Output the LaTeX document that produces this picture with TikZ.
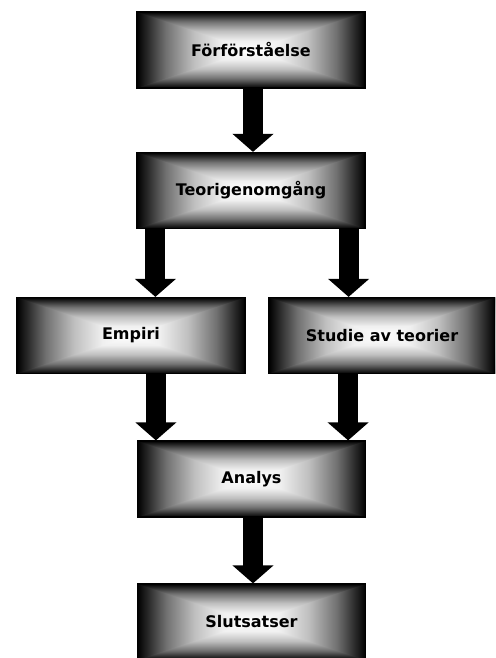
\documentclass[tikz,border=0pt]{standalone}
\usepackage{fontspec}
\setmainfont{DejaVu Sans}
\usetikzlibrary{calc,arrows.meta}
\pgfdeclarehorizontalshading{gshL}{100bp}{color(0bp)=(black); color(25bp)=(black); color(37.5bp)=(black!56); color(50bp)=(black!25); color(62.5bp)=(black!6); color(75bp)=(white); color(100bp)=(white)}
\pgfdeclarehorizontalshading{gshR}{100bp}{color(0bp)=(white); color(25bp)=(white); color(37.5bp)=(black!6); color(50bp)=(black!25); color(62.5bp)=(black!56); color(75bp)=(black); color(100bp)=(black)}
\pgfdeclareverticalshading{gshT}{100bp}{color(0bp)=(white); color(25bp)=(white); color(37.5bp)=(black!6); color(50bp)=(black!25); color(62.5bp)=(black!56); color(75bp)=(black); color(100bp)=(black)}
\pgfdeclareverticalshading{gshB}{100bp}{color(0bp)=(black); color(25bp)=(black); color(37.5bp)=(black!56); color(50bp)=(black!25); color(62.5bp)=(black!6); color(75bp)=(white); color(100bp)=(white)}
\begin{document}
\begin{tikzpicture}[x=1pt,y=-1pt,
  gbox/.style={draw=black, line width=1.2pt, minimum width=228pt, minimum height=76pt,
    inner sep=0pt, font=\fontsize{16}{19}\selectfont\bfseries, text=black,
    path picture={
      \path let \p1=(path picture bounding box.south west),
                \p2=(path picture bounding box.north east) in
        coordinate (gSW) at (\x1,\y1)
        coordinate (gNE) at (\x2,\y2)
        coordinate (gNW) at (\x1,\y2)
        coordinate (gSE) at (\x2,\y1)
        coordinate (gC) at ({(\x1+\x2)/2},{(\y1+\y2)/2})
        coordinate (gWC) at (\x1,{(\y1+\y2)/2})
        coordinate (gEC) at (\x2,{(\y1+\y2)/2});
      \shade[shading=gshT] (gNW) rectangle (gEC);
      \shade[shading=gshB] (gSE) rectangle (gWC);
      \shade[shading=gshL] (gSW) -- (gNW) -- (gC) -- cycle;
      \shade[shading=gshR] (gSE) -- (gNE) -- (gC) -- cycle;
    }},
  bigarrow/.style={line width=20pt, -{Triangle[width=40pt,length=18pt]}}]
\useasboundingbox (0,0) rectangle (495,658);
\begin{scope}
\clip (0,0) rectangle (495,658);
\node[gbox] (b1) at (251,50) {Förförståelse};
\node[gbox] (b2) at (251,190.5) {Teorigenomgång};
\node[gbox] (emp) at (131,335.5) {Empiri};
\node[gbox, minimum width=226pt] (stu) at (382,335.5) {Studie av teorier};
\node[gbox] (ana) at (251.5,479) {Analys};
\node[gbox] (slu) at (251.5,622) {Slutsatser};
\end{scope}
\draw[bigarrow] ([xshift=2pt]b1.south) -- ([xshift=2pt]b2.north);
\draw[bigarrow] ([xshift=19pt]b2.south west) -- ([xshift=19pt]b2.south west |- emp.north);
\draw[bigarrow] ([xshift=-17pt]b2.south east) -- ([xshift=-17pt]b2.south east |- stu.north);
\draw[bigarrow] ([xshift=19pt]ana.north west |- emp.south) -- ([xshift=19pt]ana.north west);
\draw[bigarrow] ([xshift=-18pt]ana.north east |- stu.south) -- ([xshift=-18pt]ana.north east);
\draw[bigarrow] ([xshift=1.5pt]ana.south) -- ([xshift=1.5pt]slu.north);
\end{tikzpicture}
\end{document}
